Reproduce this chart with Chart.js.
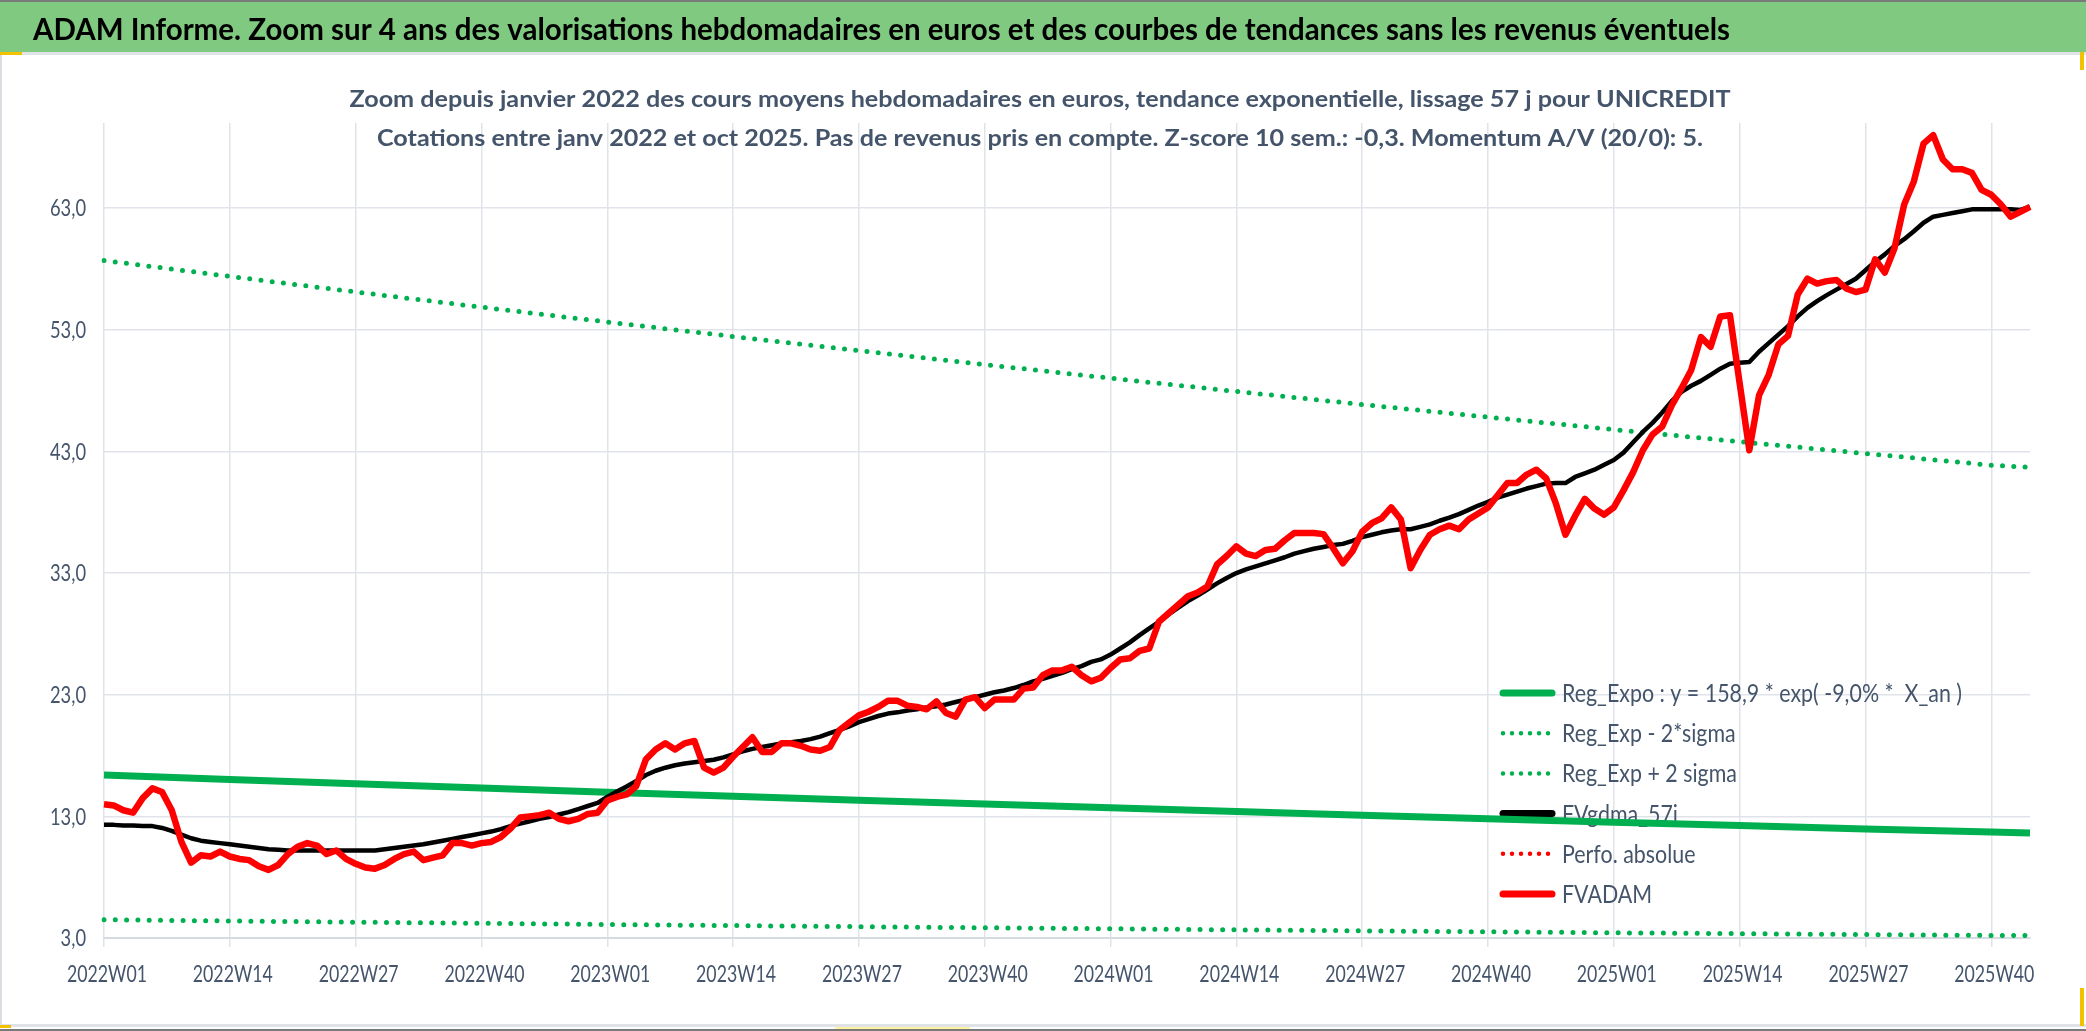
<!DOCTYPE html>
<html lang="fr">
<head>
<meta charset="utf-8">
<title>UNICREDIT - ADAM Informe</title>
<script src="https://cdn.jsdelivr.net/npm/chart.js@4.4.1/dist/chart.umd.min.js"></script>
<style>
    html, body { margin: 0; padding: 0; background: #fff; }
    #page { position: relative; width: 2086px; height: 1031px; overflow: hidden; background: #fff; }
    #chart { position: absolute; left: 0; top: 0; }
    .header { position: absolute; left: 0; top: 0; width: 2086px; height: 52px; background: #80c980; border-top: 2px solid #7a7a7a; box-sizing: border-box; }
    .deco { position: absolute; }
</style>
</head>
<body>
<div id="page">
    <div class="header"></div>
    <div class="deco" style="left:0;top:52px;width:2086px;height:3px;background:#dfe2e7;"></div>
    <div class="deco" style="left:0;top:52px;width:2px;height:975px;background:#d9dce1;"></div>
    <div class="deco" style="left:0;top:1024px;width:2086px;height:3px;background:#dfe2e7;"></div>
    <div class="deco" style="left:0;top:1029px;width:2086px;height:2px;background:#7a7a7a;"></div>
    <div class="deco" style="left:0;top:52px;width:22px;height:3px;background:#f2c200;"></div>
    <div class="deco" style="left:0;top:1025px;width:11px;height:3px;background:#f2c200;"></div>
    <div class="deco" style="left:2080px;top:52px;width:4px;height:18px;background:#f2c200;"></div>
    <div class="deco" style="left:2080px;top:988px;width:4px;height:38px;background:#f2c200;"></div>
    <div class="deco" style="left:835px;top:1027px;width:135px;height:2px;background:#fff3a0;"></div>
    <canvas id="chart" width="2086" height="1031"></canvas>
</div>

<script>
// ================================================================
// DONNÉES
// ================================================================
const years = [2022, 2023, 2024, 2025];
const lastWeek2025 = 44;
const weeks = [];
years.forEach(y => {
    const n = y === 2025 ? lastWeek2025 : 52;
    for (let w = 1; w <= n; w++) weeks.push(y + 'W' + String(w).padStart(2, '0'));
});

// cours moyen hebdo (FVADAM)
const fvadam = [
    14.0, 13.9, 13.5, 13.3, 14.5, 15.3, 15.0, 13.5, 10.9, 9.2,
    9.8, 9.7, 10.1, 9.7, 9.5, 9.4, 8.9, 8.6, 9.0, 9.9,
    10.5, 10.8, 10.6, 9.9, 10.2, 9.5, 9.1, 8.8, 8.7, 9.0,
    9.5, 9.9, 10.1, 9.4, 9.6, 9.8, 10.8, 10.8, 10.6, 10.8,
    10.9, 11.3, 12.0, 12.9, 13.0, 13.1, 13.3, 12.8, 12.6, 12.8,
    13.2, 13.3, 14.3, 14.6, 14.8, 15.5, 17.7, 18.5, 19.0, 18.5,
    19.0, 19.2, 17.0, 16.6, 17.0, 17.9, 18.7, 19.5, 18.3, 18.3,
    19.0, 19.0, 18.8, 18.5, 18.4, 18.7, 20.1, 20.7, 21.3, 21.6,
    22.0, 22.5, 22.5, 22.1, 22.0, 21.8, 22.45, 21.5, 21.2, 22.6,
    22.8, 21.9, 22.6, 22.6, 22.6, 23.5, 23.6, 24.6, 25.0, 25.0,
    25.3, 24.6, 24.1, 24.4, 25.2, 25.9, 26.0, 26.6, 26.8, 29.0,
    29.7, 30.4, 31.1, 31.4, 31.9, 33.7, 34.4, 35.2, 34.6, 34.4,
    34.9, 35.0, 35.7, 36.3, 36.3, 36.3, 36.2, 35.05, 33.8, 34.8,
    36.4, 37.1, 37.5, 38.4, 37.4, 33.4, 34.9, 36.15, 36.6, 36.9,
    36.6, 37.4, 37.9, 38.4, 39.4, 40.4, 40.4, 41.1, 41.5, 40.8,
    38.75, 36.15, 37.7, 39.1, 38.3, 37.8, 38.4, 39.8, 41.3, 43.1,
    44.4, 45.05, 46.8, 48.2, 49.7, 52.4, 51.6, 54.1, 54.2, 48.6,
    43.1, 47.6, 49.3, 51.8, 52.5, 55.9, 57.2, 56.8, 57.0, 57.1,
    56.4, 56.1, 56.3, 58.8, 57.7, 59.7, 63.3, 65.2, 68.3, 69.0,
    67.0, 66.2, 66.2, 65.9, 64.5, 64.1, 63.3, 62.3, 62.7, 63.1
];

// lissage 57 j (FVgdma_57j)
const fvgdma57 = [
    12.3, 12.3, 12.25, 12.25, 12.2, 12.2, 12.05, 11.8, 11.5, 11.2,
    11.0, 10.9, 10.8, 10.7, 10.6, 10.5, 10.4, 10.3, 10.25, 10.2,
    10.2, 10.2, 10.2, 10.2, 10.2, 10.2, 10.2, 10.2, 10.2, 10.3,
    10.4, 10.5, 10.6, 10.7, 10.85, 11.0, 11.15, 11.3, 11.45, 11.6,
    11.75, 11.95, 12.2, 12.4, 12.6, 12.8, 12.95, 13.15, 13.35, 13.6,
    13.85, 14.1, 14.6, 15.05, 15.45, 15.9, 16.4, 16.75, 17.0, 17.2,
    17.35, 17.45, 17.55, 17.65, 17.85, 18.1, 18.35, 18.55, 18.7, 18.85,
    19.0, 19.1, 19.2, 19.35, 19.55, 19.85, 20.1, 20.4, 20.75, 21.0,
    21.25, 21.45, 21.55, 21.7, 21.8, 21.95, 22.05, 22.2, 22.4, 22.6,
    22.8, 23.0, 23.2, 23.35, 23.55, 23.8, 24.1, 24.3, 24.55, 24.8,
    25.1, 25.35, 25.7, 25.9, 26.3, 26.8, 27.3, 27.9, 28.45, 29.0,
    29.6, 30.15, 30.7, 31.15, 31.65, 32.15, 32.6, 33.0, 33.3, 33.55,
    33.8, 34.05, 34.3, 34.6, 34.8, 35.0, 35.15, 35.3, 35.4, 35.65,
    35.95, 36.15, 36.35, 36.5, 36.6, 36.6, 36.8, 37.0, 37.3, 37.55,
    37.85, 38.2, 38.55, 38.85, 39.2, 39.45, 39.7, 39.95, 40.15, 40.35,
    40.4, 40.4, 40.9, 41.2, 41.5, 41.9, 42.3, 42.9, 43.75, 44.6,
    45.35, 46.2, 47.15, 47.9, 48.4, 48.8, 49.3, 49.8, 50.2, 50.3,
    50.35, 51.2, 51.9, 52.6, 53.3, 54.1, 54.8, 55.35, 55.85, 56.3,
    56.75, 57.2, 57.9, 58.6, 59.2, 59.9, 60.45, 61.1, 61.8, 62.3,
    62.45, 62.6, 62.75, 62.9, 62.9, 62.9, 62.9, 62.9, 62.85, 63.1
];

// courbes de tendance, relevées aux semaines repères
const trendWeeks = ['2022W01', '2022W14', '2022W27', '2022W40', '2023W01', '2023W14', '2023W27', '2023W40',
                    '2024W01', '2024W14', '2024W27', '2024W40', '2025W01', '2025W14', '2025W27', '2025W40', '2025W44'];
const regExpo  = [16.4, 16.04, 15.68, 15.33, 14.99, 14.66, 14.33, 14.01, 13.70, 13.40, 13.10, 12.81, 12.52, 12.24, 11.97, 11.71, 11.63];
const regMinus = [4.5, 4.40, 4.30, 4.21, 4.11, 4.02, 3.93, 3.84, 3.76, 3.67, 3.59, 3.51, 3.43, 3.36, 3.28, 3.21, 3.20];
const regPlus  = [58.7, 57.39, 56.11, 54.86, 53.64, 52.45, 51.28, 50.14, 49.02, 47.93, 46.86, 45.82, 44.80, 43.80, 42.83, 41.87, 41.69];
const perfoAbsolue = [];

const yTicks = [3, 13, 23, 33, 43, 53, 63];
const xTickEvery = 13;

const headerTitle = 'ADAM Informe. Zoom sur 4 ans des valorisations hebdomadaires en euros et des courbes de tendances sans les revenus éventuels';
const subTitles = [
    'Zoom depuis janvier 2022 des cours moyens hebdomadaires en euros, tendance exponentielle, lissage 57 j pour UNICREDIT',
    'Cotations entre janv 2022 et oct 2025. Pas de revenus pris en compte. Z-score 10 sem.: -0,3. Momentum A/V (20/0): 5.'
];
const legendTexts = ['Reg_Expo : y = 158,9 * exp( -9,0% *  X_an )', 'Reg_Exp - 2*sigma', 'Reg_Exp + 2 sigma',
                     'FVgdma_57j', 'Perfo. absolue', 'FVADAM'];

// ================================================================
// TEXTE (police Lato resserrée à la largeur voulue)
// ================================================================
const FONT = "Lato, 'Open Sans', sans-serif";
const TEXT = '#44546a';
const GRID = '#e0e3e9';
const GREEN = '#00b050';

function squeezeFactor(c, font, sample, width) {
    c.font = font;
    return width / c.measureText(sample).width;
}

function drawText(c, text, font, color, x, baseline, sx, align) {
    c.save();
    c.font = font;
    c.fillStyle = color;
    c.textBaseline = 'alphabetic';
    const w = c.measureText(text).width * sx;
    const left = align === 'center' ? x - w / 2 : align === 'right' ? x - w : x;
    c.translate(left, baseline);
    c.scale(sx, 1);
    c.textAlign = 'left';
    c.fillText(text, 0, 0);
    c.restore();
}

const textLayer = {
    id: 'textLayer',
    afterDraw(chart) {
        const c = chart.ctx;
        const xs = chart.scales.x, ys = chart.scales.y;

        // titres
        const fH = `bold 30px ${FONT}`;
        drawText(c, headerTitle, fH, '#000', 33, 40, squeezeFactor(c, fH, headerTitle, 1697), 'left');
        const fS = `bold 22.5px ${FONT}`;
        drawText(c, subTitles[0], fS, TEXT, 1040, 106.5, squeezeFactor(c, fS, subTitles[0], 1381), 'center');
        drawText(c, subTitles[1], fS, TEXT, 1040, 146, squeezeFactor(c, fS, subTitles[1], 1326), 'center');

        // étiquettes de l'axe X
        const fX = `24px ${FONT}`;
        const sxX = squeezeFactor(c, fX, '2022W01', 80);
        weeks.forEach((w, i) => {
            if (i % xTickEvery === 0) drawText(c, w, fX, TEXT, xs.getPixelForValue(i) + 3, 982, sxX, 'center');
        });

        // étiquettes de l'axe Y
        const fY = `23px ${FONT}`;
        const sxY = squeezeFactor(c, fY, '63,0', 36);
        yTicks.forEach(v => {
            drawText(c, v.toFixed(1).replace('.', ','), fY, TEXT, chart.chartArea.left - 18, ys.getPixelForValue(v) + 8.3, sxY, 'right');
        });
    }
};

// légende dans la zone de tracé, dessinée sous les courbes
const insideLegend = {
    id: 'insideLegend',
    beforeDatasetsDraw(chart, args, opts) {
        const c = chart.ctx;
        const fL = `25px ${FONT}`;
        const sx = squeezeFactor(c, fL, legendTexts[0], 400);
        opts.items.forEach((it, k) => {
            const y = opts.y + k * opts.rowGap;
            c.save();
            c.beginPath();
            c.strokeStyle = it.color;
            c.lineWidth = it.dotted ? 4.5 : 7;
            c.lineCap = 'round';
            c.setLineDash(it.dotted ? [0, 9] : []);
            c.moveTo(opts.x + 3, y);
            c.lineTo(opts.x + opts.symbolWidth - 3, y);
            c.stroke();
            c.restore();
            drawText(c, legendTexts[k], fL, TEXT, opts.x + opts.symbolWidth + 7, y + 9, sx, 'left');
        });
    }
};

// ================================================================
// DIAGRAMME
// ================================================================
const toPoints = vals => vals.map((v, i) => ({ x: trendWeeks[i], y: v }));

function drawChart() {
    const ctx = document.getElementById('chart').getContext('2d');
    new Chart(ctx, {
        type: 'line',
        data: {
            labels: weeks,
            datasets: [
                { label: legendTexts[0], data: toPoints(regExpo), borderColor: GREEN, borderWidth: 7, order: 5 },
                { label: legendTexts[1], data: toPoints(regMinus), borderColor: GREEN, borderWidth: 5,
                  borderDash: [0, 11.3], borderCapStyle: 'round', order: 4 },
                { label: legendTexts[2], data: toPoints(regPlus), borderColor: GREEN, borderWidth: 5,
                  borderDash: [0, 11.3], borderCapStyle: 'round', order: 3 },
                { label: legendTexts[3], data: fvgdma57, borderColor: '#000000', borderWidth: 4.5, order: 2 },
                { label: legendTexts[4], data: perfoAbsolue, borderColor: '#ff0000', borderWidth: 3,
                  borderDash: [0, 8], borderCapStyle: 'round', order: 1 },
                { label: legendTexts[5], data: fvadam, borderColor: '#ff0000', borderWidth: 6.5, order: 0 }
            ]
        },
        options: {
            responsive: false,
            animation: false,
            devicePixelRatio: 1,
            layout: { padding: { top: 123, right: 56, bottom: 33, left: 0 } },
            elements: {
                point: { radius: 0, hoverRadius: 0 },
                line: { tension: 0, borderJoinStyle: 'round', fill: false }
            },
            scales: {
                x: {
                    type: 'category',
                    offset: false,
                    afterFit: s => { s.height = 60; },
                    grid: {
                        color: c => c.index % xTickEvery === 0 ? GRID : 'rgba(0,0,0,0)',
                        tickColor: c => c.index % xTickEvery === 0 ? GRID : 'rgba(0,0,0,0)',
                        lineWidth: 1.5,
                        tickLength: 9
                    },
                    border: { display: true, color: '#d6dae1', width: 2 },
                    ticks: { display: false, autoSkip: false, maxRotation: 0 }
                },
                y: {
                    min: 3, max: 70,
                    afterBuildTicks: s => { s.ticks = yTicks.map(v => ({ value: v })); },
                    afterFit: s => { s.width = 104; },
                    grid: { color: GRID, lineWidth: 1.5, drawTicks: false },
                    border: { display: false },
                    ticks: { display: false }
                }
            },
            plugins: {
                legend: { display: false },
                tooltip: { enabled: false },
                insideLegend: {
                    x: 1500, y: 693, rowGap: 40.2, symbolWidth: 55,
                    items: [
                        { color: GREEN, dotted: false },
                        { color: GREEN, dotted: true },
                        { color: GREEN, dotted: true },
                        { color: '#000000', dotted: false },
                        { color: '#ff0000', dotted: true },
                        { color: '#ff0000', dotted: false }
                    ]
                }
            }
        },
        plugins: [insideLegend, textLayer]
    });
}

drawChart();
</script>
</body>
</html>
